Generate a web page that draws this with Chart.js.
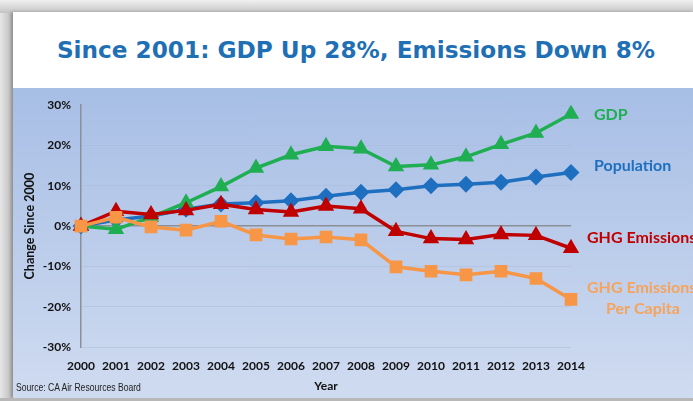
<!DOCTYPE html>
<html lang="en">
<head>
  <meta charset="UTF-8">
  <title>GDP vs Emissions</title>
  <script src="https://cdn.jsdelivr.net/npm/chart.js"></script>
  <style>
    * { box-sizing: border-box; }
    html, body { margin: 0; padding: 0; }
    body {
      width: 693px; height: 401px; overflow: hidden; position: relative;
      background: linear-gradient(90deg, #e6e6e6 0px, #bdbdbd 12px);
    }
    .topband { position: absolute; left: 0; top: 0; width: 693px; height: 13px;
      background: linear-gradient(#f0f0f0, #c4c4c4); }
    .panel { position: absolute; left: 13px; top: 12px; width: 680px; height: 386px;
      background: #fff; box-shadow: -2px 0 3px rgba(0,0,0,0.25); }
    .title { position: absolute; left: 0; top: 24px; width: 686px; text-align: center;
      font-family: "DejaVu Sans", sans-serif; font-weight: bold; font-size: 23.2px; color: #1f6fb4; }
    .plotbg { position: absolute; left: 0; top: 76px; width: 680px; height: 310px;
      background: linear-gradient(#a7bee5, #cfdbf0); }
    #chart { position: absolute; left: 0; top: 76px; }
    .source { position: absolute; left: 3px; top: 369px; white-space: nowrap;
      font-family: "Liberation Sans", Arial, sans-serif; font-size: 10.5px; color: #222;
      transform: scaleX(0.82); transform-origin: left center; }
    .bottomband { position: absolute; left: 0; top: 398px; width: 693px; height: 3px; background: #b8b8b8; }
  </style>
</head>
<body>
  <div class="topband"></div>
  <div class="panel">
    <div class="title">Since 2001: GDP Up 28%, Emissions Down 8%</div>
    <div class="plotbg"></div>
    <canvas id="chart" width="680" height="310"></canvas>
    <div class="source">Source: CA Air Resources Board</div>
  </div>
  <div class="bottomband"></div>

  <script>
    const years = ['2000','2001','2002','2003','2004','2005','2006','2007','2008','2009','2010','2011','2012','2013','2014'];
    const gdp = [0, -0.8, 2.2, 5.8, 9.8, 14.4, 17.7, 19.8, 19.2, 14.8, 15.2, 17.2, 20.3, 23.1, 27.8];
    const population = [0, 1.5, 2.5, 4.2, 5.5, 5.8, 6.3, 7.4, 8.4, 9.0, 10.0, 10.4, 10.9, 12.2, 13.3];
    const ghg = [0, 3.7, 2.9, 3.9, 5.4, 4.1, 3.5, 5.0, 4.3, -1.3, -3.1, -3.3, -2.1, -2.3, -5.5];
    const ghgPerCapita = [0, 2.2, -0.2, -1.0, 1.2, -2.2, -3.2, -2.7, -3.4, -10.1, -11.2, -12.1, -11.2, -13.0, -18.2];
    const yTicks = [-30, -20, -10, 0, 10, 20, 30];

    // text labels to the right of the plot (dx from plot right edge, y in canvas)
    const seriesLabels = [
      { text: 'GDP', color: '#1fae52', dx: 23, y: 27 },
      { text: 'Population', color: '#1f6fc0', dx: 23, y: 78 },
      { text: 'GHG Emissions', color: '#c00000', dx: 16, y: 150 },
      { text: 'GHG Emissions', color: '#f6a35c', dx: 16, y: 200 },
      { text: 'Per Capita', color: '#f6a35c', dx: 35, y: 221 }
    ];

    const labelPlugin = {
      id: 'seriesLabels',
      afterDraw(chart) {
        const ctx = chart.ctx;
        const right = chart.chartArea.right;
        ctx.save();
        ctx.font = 'bold 16px Lato, sans-serif';
        ctx.textBaseline = 'middle';
        ctx.textAlign = 'left';
        seriesLabels.forEach(l => {
          ctx.fillStyle = l.color;
          ctx.fillText(l.text, right + l.dx, l.y);
        });
        ctx.restore();
      }
    };

    const tickFont = { family: 'Lato, sans-serif', weight: 'bold', size: 12 };

    new Chart(document.getElementById('chart'), {
      type: 'line',
      data: {
        labels: years,
        datasets: [
          { label: 'GHG Emissions Per Capita', data: ghgPerCapita, borderColor: '#f79646', backgroundColor: '#f79646',
            pointStyle: 'rect', pointRadius: 6.5, borderWidth: 3.5 },
          { label: 'GHG Emissions', data: ghg, borderColor: '#c00000', backgroundColor: '#c00000',
            pointStyle: 'triangle', pointRadius: 6, borderWidth: 3.5 },
          { label: 'GDP', data: gdp, borderColor: '#1fae52', backgroundColor: '#1fae52',
            pointStyle: 'triangle', pointRadius: 6, borderWidth: 3.5 },
          { label: 'Population', data: population, borderColor: '#1f6fc0', backgroundColor: '#1f6fc0',
            pointStyle: 'rectRot', pointRadius: 6, borderWidth: 3.5 }
        ]
      },
      options: {
        responsive: false,
        animation: false,
        layout: { padding: { top: 10, right: 122, left: 0, bottom: 0 } },
        plugins: { legend: { display: false }, tooltip: { enabled: false } },
        elements: { line: { tension: 0 }, point: { borderWidth: 1 } },
        scales: {
          x: {
            offset: false,
            grid: { display: false, drawTicks: false },
            border: { display: false },
            ticks: { font: tickFont, color: '#111', padding: 12, maxRotation: 0, autoSkip: false },
            title: { display: true, text: 'Year', font: tickFont, color: '#111', padding: { top: 0, bottom: 5 } },
            afterFit(scale) { scale.height = 51; }
          },
          y: {
            min: -30, max: 30,
            afterBuildTicks(scale) { scale.ticks = yTicks.map(v => ({ value: v })); },
            grid: {
              drawTicks: false,
              color: ctx => ctx.tick && ctx.tick.value === 0 ? '#8c8f96' : 'rgba(170,185,215,0.5)',
              lineWidth: ctx => ctx.tick && ctx.tick.value === 0 ? 1.5 : 1
            },
            border: { display: true, color: '#8a8f99', width: 1.5 },
            ticks: { font: tickFont, color: '#111', padding: 10, callback: v => v + '%' },
            title: { display: true, text: 'Change Since 2000', font: { family: 'Lato, sans-serif', weight: 'bold', size: 12.5 },
              color: '#111', padding: { top: 9, bottom: 0 } },
            afterFit(scale) { scale.width = 68; }
          }
        }
      },
      plugins: [labelPlugin]
    });
  </script>
</body>
</html>
